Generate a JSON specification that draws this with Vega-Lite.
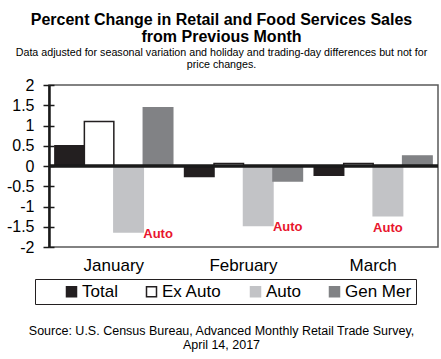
{
  "$schema": "https://vega.github.io/schema/vega-lite/v6.json",
  "width": 389,
  "height": 162,
  "autosize": {"type": "none"},
  "padding": {"top": 85, "left": 49, "right": 3, "bottom": 112},
  "background": "white",
  "config": {
    "font": "Liberation Sans",
    "view": {"stroke": "#5a5a5a", "strokeWidth": 1.5}
  },
  "title": {
    "text": ["Percent Change in Retail and Food Services Sales", "from Previous Month"],
    "subtitle": ["Data adjusted for seasonal variation and holiday and trading-day differences but not for", "price changes."],
    "anchor": "middle",
    "frame": "group",
    "dx": -22,
    "fontSize": 16,
    "fontWeight": "bold",
    "color": "#000000",
    "lineHeight": 17,
    "subtitleFontSize": 10.7,
    "subtitleColor": "#000000",
    "subtitleLineHeight": 12.5,
    "subtitlePadding": 3,
    "offset": 7
  },
  "datasets": {
    "sales": [
      {"month": "January", "series": "Total", "value": 0.5},
      {"month": "January", "series": "Ex Auto", "value": 1.1},
      {"month": "January", "series": "Auto", "value": -1.63},
      {"month": "January", "series": "Gen Mer", "value": 1.44},
      {"month": "February", "series": "Total", "value": -0.26},
      {"month": "February", "series": "Ex Auto", "value": 0.06},
      {"month": "February", "series": "Auto", "value": -1.47},
      {"month": "February", "series": "Gen Mer", "value": -0.37},
      {"month": "March", "series": "Total", "value": -0.23},
      {"month": "March", "series": "Ex Auto", "value": 0.06},
      {"month": "March", "series": "Auto", "value": -1.23},
      {"month": "March", "series": "Gen Mer", "value": 0.25}
    ],
    "notes": [
      {"month": "January", "series": "Gen Mer", "value": -1.69, "label": "Auto"},
      {"month": "February", "series": "Gen Mer", "value": -1.5, "label": "Auto"},
      {"month": "March", "series": "Auto", "value": -1.52, "label": "Auto"}
    ]
  },
  "resolve": {"axis": {"y": "independent"}},
  "layer": [
    {
      "data": {"name": "sales"},
      "mark": {"type": "bar", "strokeWidth": 1.5},
      "encoding": {
        "x": {
          "field": "month", "type": "nominal",
          "sort": ["January", "February", "March"],
          "scale": {"paddingInner": 0, "paddingOuter": 0},
          "axis": {
            "orient": "bottom",
            "domain": false, "ticks": false,
            "labelAngle": 0, "labelFontSize": 17, "labelColor": "#000000",
            "labelPadding": 10,
            "title": ["Source: U.S. Census Bureau, Advanced Monthly Retail Trade Survey,", "April 14, 2017"],
            "titleFontSize": 12.5, "titleFontWeight": "normal", "titleColor": "#000000",
            "titleLineHeight": 14,
            "titleBaseline": "top",
            "titleX": 172, "titleY": 77, "titleAlign": "center", "titleAngle": 0
          }
        },
        "xOffset": {
          "field": "series", "type": "nominal",
          "scale": {"domain": ["Total", "Ex Auto", "Auto", "Gen Mer"], "paddingInner": 0, "paddingOuter": 0.2}
        },
        "y": {
          "field": "value", "type": "quantitative",
          "scale": {"domain": [-2, 2], "nice": false},
          "axis": {
            "orient": "left",
            "title": null,
            "values": [-2, -1.5, -1, -0.5, 0, 0.5, 1, 1.5, 2],
            "labelExpr": "datum.value + ''",
            "labelFontSize": 16, "labelColor": "#000000",
            "labelPadding": 9,
            "grid": false,
            "domainColor": "#1a1a1a", "domainWidth": 2.5,
            "tickColor": "#1a1a1a", "tickWidth": 1.5, "tickSize": 6
          }
        },
        "fill": {
          "field": "series", "type": "nominal",
          "scale": {"domain": ["Total", "Ex Auto", "Auto", "Gen Mer"], "range": ["#231f20", "#ffffff", "#c2c3c6", "#818285"]},
          "legend": {
            "orient": "none", "legendX": -14, "legendY": 194,
            "direction": "horizontal", "columns": 4,
            "title": "\u00a0", "titleOrient": "left", "titleFontSize": 1, "titlePadding": 24,
            "labelExpr": "datum.label == 'Gen Mer' ? 'Gen Mer\u00a0\u00a0\u00a0\u00a0\u00a0\u00a0' : datum.label",
            "labelFontSize": 17, "labelColor": "#000000", "labelOffset": 2,
            "symbolType": "square", "symbolSize": 100, "symbolStrokeWidth": 1.5,
            "columnPadding": 25,
            "padding": 4,
            "fillColor": "white", "strokeColor": "#231f20"
          }
        },
        "stroke": {
          "field": "series", "type": "nominal",
          "scale": {"domain": ["Total", "Ex Auto", "Auto", "Gen Mer"], "range": ["#231f20", "#231f20", "#c2c3c6", "#818285"]},
          "legend": null
        }
      }
    },
    {
      "data": {"values": [{}]},
      "mark": {"type": "rule", "color": "#1a1a1a", "strokeWidth": 3.5},
      "encoding": {
        "y": {
          "datum": 0, "type": "quantitative",
          "axis": {
            "orient": "left", "offset": -5,
            "values": [-2, -1.5, -1, -0.5, 0, 0.5, 1, 1.5, 2],
            "labels": false, "domain": false, "grid": false, "title": null,
            "tickColor": "#1a1a1a", "tickWidth": 1.5, "tickSize": 5
          }
        }
      }
    },
    {
      "data": {"name": "notes"},
      "mark": {"type": "text", "color": "#e8152d", "fontSize": 13, "fontWeight": "bold", "font": "Liberation Sans"},
      "encoding": {
        "x": {"field": "month", "type": "nominal", "sort": ["January", "February", "March"]},
        "xOffset": {"field": "series", "type": "nominal"},
        "y": {"field": "value", "type": "quantitative", "axis": null},
        "text": {"field": "label"}
      }
    }
  ]
}
